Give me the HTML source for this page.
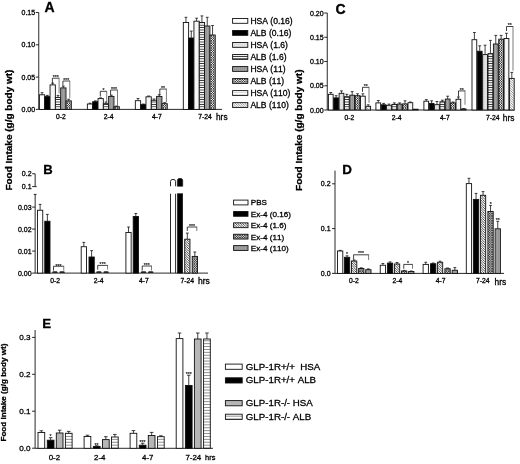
<!DOCTYPE html>
<html><head><meta charset="utf-8"><title>Figure</title>
<style>
html,body{margin:0;padding:0;background:#fff;}
svg{display:block;font-family:"Liberation Sans",Arial,sans-serif;}
text{fill:#000;stroke:#000;stroke-width:0.3px;font-kerning:none;}
</style></head><body>
<svg width="520" height="464" viewBox="0 0 520 464">
<rect width="520" height="464" fill="#fff"/>
<defs>
<pattern id="ph" width="4" height="2.4" patternUnits="userSpaceOnUse"><rect width="4" height="2.4" fill="#fff"/><rect y="0.75" width="4" height="0.85" fill="#222"/></pattern>
<pattern id="peh" width="4" height="2.9" patternUnits="userSpaceOnUse"><rect width="4" height="2.9" fill="#fff"/><rect y="1.1" width="4" height="0.65" fill="#555"/></pattern>
<pattern id="ph2" width="4" height="2.4" patternUnits="userSpaceOnUse"><rect width="4" height="2.4" fill="#fff"/><rect y="0.9" width="4" height="0.6" fill="#c4c4c4"/></pattern>
<pattern id="pl" width="2" height="2" patternUnits="userSpaceOnUse"><rect width="2" height="2" fill="#e4e4e4"/><rect width="1" height="1" fill="#d6d6d6"/></pattern>
<pattern id="pg" width="2" height="2" patternUnits="userSpaceOnUse"><rect width="2" height="2" fill="#a2a2a2"/><rect width="1" height="2" fill="#949494"/></pattern>
<pattern id="pc" width="2.4" height="2.4" patternUnits="userSpaceOnUse"><rect width="2.4" height="2.4" fill="#fff"/><path d="M0,0 L2.4,2.4 M2.4,0 L0,2.4" stroke="#000" stroke-width="0.62"/></pattern>
<pattern id="pgc" width="2.4" height="2.4" patternUnits="userSpaceOnUse"><rect width="2.4" height="2.4" fill="#d6d6d6"/><path d="M0,0 L2.4,2.4 M2.4,0 L0,2.4" stroke="#111" stroke-width="0.6"/></pattern>
<pattern id="pd" width="2.4" height="2.4" patternUnits="userSpaceOnUse"><rect width="2.4" height="2.4" fill="#fff"/><path d="M-0.6,-0.6 L3,3 M-0.6,1.8 L0.6,3 M1.8,-0.6 L3,0.6" stroke="#444" stroke-width="0.55"/></pattern>
<pattern id="pd2" width="2.4" height="2.4" patternUnits="userSpaceOnUse"><rect width="2.4" height="2.4" fill="#fff"/><path d="M-0.6,-0.6 L3,3 M-0.6,1.8 L0.6,3 M1.8,-0.6 L3,0.6" stroke="#111" stroke-width="0.75"/></pattern>
</defs>
<line x1="38.75" y1="12.50" x2="38.75" y2="109.40" stroke="#111" stroke-width="0.9" />
<line x1="38.75" y1="109.40" x2="222.00" y2="109.40" stroke="#111" stroke-width="0.9" />
<line x1="35.75" y1="12.50" x2="38.75" y2="12.50" stroke="#111" stroke-width="0.9" />
<text x="35.15" y="15.05" font-size="7.0" text-anchor="end" font-weight="normal" >0.15</text>
<line x1="35.75" y1="44.80" x2="38.75" y2="44.80" stroke="#111" stroke-width="0.9" />
<text x="35.15" y="47.35" font-size="7.0" text-anchor="end" font-weight="normal" >0.10</text>
<line x1="35.75" y1="77.10" x2="38.75" y2="77.10" stroke="#111" stroke-width="0.9" />
<text x="35.15" y="79.65" font-size="7.0" text-anchor="end" font-weight="normal" >0.05</text>
<line x1="35.75" y1="109.40" x2="38.75" y2="109.40" stroke="#111" stroke-width="0.9" />
<text x="35.15" y="111.95" font-size="7.0" text-anchor="end" font-weight="normal" >0.00</text>
<text x="44.60" y="12.20" font-size="14" text-anchor="start" font-weight="bold" >A</text>
<line x1="42.06" y1="92.70" x2="42.06" y2="94.80" stroke="#111" stroke-width="0.8" />
<line x1="40.66" y1="92.70" x2="43.46" y2="92.70" stroke="#111" stroke-width="0.8" />
<rect x="39.40" y="94.80" width="5.32" height="14.60" fill="#fff" stroke="#111" stroke-width="0.9"/>
<line x1="47.38" y1="95.40" x2="47.38" y2="96.60" stroke="#111" stroke-width="0.8" />
<line x1="45.98" y1="95.40" x2="48.78" y2="95.40" stroke="#111" stroke-width="0.8" />
<rect x="44.72" y="96.60" width="5.32" height="12.80" fill="#000" stroke="#111" stroke-width="0.9"/>
<line x1="52.70" y1="83.20" x2="52.70" y2="84.90" stroke="#111" stroke-width="0.8" />
<line x1="51.30" y1="83.20" x2="54.10" y2="83.20" stroke="#111" stroke-width="0.8" />
<rect x="50.04" y="84.90" width="5.32" height="24.50" fill="#f6f6f6" stroke="#111" stroke-width="0.9"/>
<line x1="58.02" y1="95.40" x2="58.02" y2="97.40" stroke="#111" stroke-width="0.8" />
<line x1="56.62" y1="95.40" x2="59.42" y2="95.40" stroke="#111" stroke-width="0.8" />
<rect x="55.36" y="97.40" width="5.32" height="12.00" fill="url(#ph)" stroke="#111" stroke-width="0.9"/>
<line x1="63.34" y1="86.20" x2="63.34" y2="87.90" stroke="#111" stroke-width="0.8" />
<line x1="61.94" y1="86.20" x2="64.74" y2="86.20" stroke="#111" stroke-width="0.8" />
<rect x="60.68" y="87.90" width="5.32" height="21.50" fill="url(#pg)" stroke="#111" stroke-width="0.9"/>
<line x1="68.66" y1="99.20" x2="68.66" y2="100.90" stroke="#111" stroke-width="0.8" />
<line x1="67.26" y1="99.20" x2="70.06" y2="99.20" stroke="#111" stroke-width="0.8" />
<rect x="66.00" y="100.90" width="5.32" height="8.50" fill="url(#pc)" stroke="#111" stroke-width="0.9"/>
<line x1="90.03" y1="103.20" x2="90.03" y2="104.00" stroke="#111" stroke-width="0.8" />
<line x1="88.63" y1="103.20" x2="91.43" y2="103.20" stroke="#111" stroke-width="0.8" />
<rect x="87.37" y="104.00" width="5.32" height="5.40" fill="#fff" stroke="#111" stroke-width="0.9"/>
<line x1="95.35" y1="100.90" x2="95.35" y2="101.70" stroke="#111" stroke-width="0.8" />
<line x1="93.95" y1="100.90" x2="96.75" y2="100.90" stroke="#111" stroke-width="0.8" />
<rect x="92.69" y="101.70" width="5.32" height="7.70" fill="#000" stroke="#111" stroke-width="0.9"/>
<line x1="100.67" y1="97.90" x2="100.67" y2="98.60" stroke="#111" stroke-width="0.8" />
<line x1="99.27" y1="97.90" x2="102.07" y2="97.90" stroke="#111" stroke-width="0.8" />
<rect x="98.01" y="98.60" width="5.32" height="10.80" fill="#f6f6f6" stroke="#111" stroke-width="0.9"/>
<line x1="105.99" y1="102.10" x2="105.99" y2="103.70" stroke="#111" stroke-width="0.8" />
<line x1="104.59" y1="102.10" x2="107.39" y2="102.10" stroke="#111" stroke-width="0.8" />
<rect x="103.33" y="103.70" width="5.32" height="5.70" fill="url(#ph)" stroke="#111" stroke-width="0.9"/>
<line x1="111.31" y1="95.20" x2="111.31" y2="96.40" stroke="#111" stroke-width="0.8" />
<line x1="109.91" y1="95.20" x2="112.71" y2="95.20" stroke="#111" stroke-width="0.8" />
<rect x="108.65" y="96.40" width="5.32" height="13.00" fill="url(#pg)" stroke="#111" stroke-width="0.9"/>
<line x1="116.63" y1="106.00" x2="116.63" y2="106.70" stroke="#111" stroke-width="0.8" />
<line x1="115.23" y1="106.00" x2="118.03" y2="106.00" stroke="#111" stroke-width="0.8" />
<rect x="113.97" y="106.70" width="5.32" height="2.70" fill="url(#pc)" stroke="#111" stroke-width="0.9"/>
<line x1="137.99" y1="98.50" x2="137.99" y2="100.70" stroke="#111" stroke-width="0.8" />
<line x1="136.59" y1="98.50" x2="139.39" y2="98.50" stroke="#111" stroke-width="0.8" />
<rect x="135.33" y="100.70" width="5.32" height="8.70" fill="#fff" stroke="#111" stroke-width="0.9"/>
<line x1="143.31" y1="104.00" x2="143.31" y2="104.60" stroke="#111" stroke-width="0.8" />
<line x1="141.91" y1="104.00" x2="144.71" y2="104.00" stroke="#111" stroke-width="0.8" />
<rect x="140.65" y="104.60" width="5.32" height="4.80" fill="#000" stroke="#111" stroke-width="0.9"/>
<line x1="148.63" y1="96.00" x2="148.63" y2="96.80" stroke="#111" stroke-width="0.8" />
<line x1="147.23" y1="96.00" x2="150.03" y2="96.00" stroke="#111" stroke-width="0.8" />
<rect x="145.97" y="96.80" width="5.32" height="12.60" fill="#f6f6f6" stroke="#111" stroke-width="0.9"/>
<line x1="153.95" y1="99.00" x2="153.95" y2="100.30" stroke="#111" stroke-width="0.8" />
<line x1="152.55" y1="99.00" x2="155.35" y2="99.00" stroke="#111" stroke-width="0.8" />
<rect x="151.29" y="100.30" width="5.32" height="9.10" fill="url(#ph)" stroke="#111" stroke-width="0.9"/>
<line x1="159.27" y1="94.80" x2="159.27" y2="96.40" stroke="#111" stroke-width="0.8" />
<line x1="157.87" y1="94.80" x2="160.67" y2="94.80" stroke="#111" stroke-width="0.8" />
<rect x="156.61" y="96.40" width="5.32" height="13.00" fill="url(#pg)" stroke="#111" stroke-width="0.9"/>
<line x1="164.59" y1="102.70" x2="164.59" y2="103.70" stroke="#111" stroke-width="0.8" />
<line x1="163.19" y1="102.70" x2="165.99" y2="102.70" stroke="#111" stroke-width="0.8" />
<rect x="161.93" y="103.70" width="5.32" height="5.70" fill="url(#pc)" stroke="#111" stroke-width="0.9"/>
<line x1="185.96" y1="17.30" x2="185.96" y2="22.50" stroke="#111" stroke-width="0.8" />
<line x1="184.56" y1="17.30" x2="187.36" y2="17.30" stroke="#111" stroke-width="0.8" />
<rect x="183.30" y="22.50" width="5.32" height="86.90" fill="#fff" stroke="#111" stroke-width="0.9"/>
<line x1="191.28" y1="31.10" x2="191.28" y2="38.00" stroke="#111" stroke-width="0.8" />
<line x1="189.88" y1="31.10" x2="192.68" y2="31.10" stroke="#111" stroke-width="0.8" />
<rect x="188.62" y="38.00" width="5.32" height="71.40" fill="#000" stroke="#111" stroke-width="0.9"/>
<line x1="196.60" y1="18.20" x2="196.60" y2="21.20" stroke="#111" stroke-width="0.8" />
<line x1="195.20" y1="18.20" x2="198.00" y2="18.20" stroke="#111" stroke-width="0.8" />
<rect x="193.94" y="21.20" width="5.32" height="88.20" fill="#f6f6f6" stroke="#111" stroke-width="0.9"/>
<line x1="201.92" y1="15.90" x2="201.92" y2="22.50" stroke="#111" stroke-width="0.8" />
<line x1="200.52" y1="15.90" x2="203.32" y2="15.90" stroke="#111" stroke-width="0.8" />
<rect x="199.26" y="22.50" width="5.32" height="86.90" fill="url(#ph)" stroke="#111" stroke-width="0.9"/>
<line x1="207.24" y1="17.30" x2="207.24" y2="26.00" stroke="#111" stroke-width="0.8" />
<line x1="205.84" y1="17.30" x2="208.64" y2="17.30" stroke="#111" stroke-width="0.8" />
<rect x="204.58" y="26.00" width="5.32" height="83.40" fill="url(#pg)" stroke="#111" stroke-width="0.9"/>
<line x1="212.56" y1="25.50" x2="212.56" y2="35.00" stroke="#111" stroke-width="0.8" />
<line x1="211.16" y1="25.50" x2="213.96" y2="25.50" stroke="#111" stroke-width="0.8" />
<rect x="209.90" y="35.00" width="5.32" height="74.40" fill="url(#pc)" stroke="#111" stroke-width="0.9"/>
<polyline points="52.40,83.60 52.40,78.20 59.10,78.20" fill="none" stroke="#111" stroke-width="0.8"/>
<line x1="59.10" y1="77.80" x2="59.10" y2="93.50" stroke="#444" stroke-width="0.7"/>
<text x="55.75" y="78.90" font-size="5.2" text-anchor="middle" style="stroke-width:0.12px">***</text>
<polyline points="62.90,85.80 62.90,81.00 69.80,81.00" fill="none" stroke="#111" stroke-width="0.8"/>
<line x1="69.80" y1="80.60" x2="69.80" y2="97.90" stroke="#444" stroke-width="0.7"/>
<text x="66.35" y="82.30" font-size="5.2" text-anchor="middle" style="stroke-width:0.12px">***</text>
<polyline points="100.30,96.50 100.30,91.30 106.70,91.30" fill="none" stroke="#111" stroke-width="0.8"/>
<line x1="106.70" y1="90.90" x2="106.70" y2="102.00" stroke="#444" stroke-width="0.7"/>
<text x="103.50" y="92.00" font-size="5.2" text-anchor="middle" style="stroke-width:0.12px">*</text>
<polyline points="110.60,95.00 110.60,90.00 117.50,90.00" fill="none" stroke="#111" stroke-width="0.8"/>
<line x1="117.50" y1="89.60" x2="117.50" y2="105.60" stroke="#444" stroke-width="0.7"/>
<text x="114.05" y="91.20" font-size="5.2" text-anchor="middle" style="stroke-width:0.12px">***</text>
<polyline points="159.80,95.00 159.80,89.05 166.40,89.05" fill="none" stroke="#111" stroke-width="0.8"/>
<line x1="166.40" y1="88.65" x2="166.40" y2="102.50" stroke="#444" stroke-width="0.7"/>
<text x="163.10" y="89.90" font-size="5.2" text-anchor="middle" style="stroke-width:0.12px">**</text>
<text x="60.80" y="119.00" font-size="6.75" text-anchor="middle" font-weight="normal" >0-2</text>
<text x="108.60" y="119.00" font-size="6.75" text-anchor="middle" font-weight="normal" >2-4</text>
<text x="156.80" y="119.00" font-size="6.75" text-anchor="middle" font-weight="normal" >4-7</text>
<text x="205.10" y="119.00" font-size="6.75" text-anchor="middle" font-weight="normal" >7-24</text>
<text x="216.00" y="119.60" font-size="8.3" text-anchor="start" font-weight="normal" >hrs</text>
<rect x="232.6" y="18.50" width="15.2" height="4.8" fill="#fff" stroke="#111" stroke-width="0.9"/>
<text x="250.40" y="24.00" font-size="8.55" text-anchor="start" font-weight="normal" >HSA (0.16)</text>
<rect x="232.6" y="30.52" width="15.2" height="4.8" fill="#000" stroke="#111" stroke-width="0.9"/>
<text x="250.40" y="36.02" font-size="8.55" text-anchor="start" font-weight="normal" >ALB (0.16)</text>
<rect x="232.6" y="42.54" width="15.2" height="4.8" fill="url(#pl)" stroke="#111" stroke-width="0.9"/>
<text x="250.40" y="48.04" font-size="8.55" text-anchor="start" font-weight="normal" >HSA (1.6)</text>
<rect x="232.6" y="54.56" width="15.2" height="4.8" fill="url(#ph)" stroke="#111" stroke-width="0.9"/>
<text x="250.40" y="60.06" font-size="8.55" text-anchor="start" font-weight="normal" >ALB (1.6)</text>
<rect x="232.6" y="66.58" width="15.2" height="4.8" fill="url(#pg)" stroke="#111" stroke-width="0.9"/>
<text x="250.40" y="72.08" font-size="8.55" text-anchor="start" font-weight="normal" >HSA (11)</text>
<rect x="232.6" y="78.60" width="15.2" height="4.8" fill="url(#pc)" stroke="#111" stroke-width="0.9"/>
<text x="250.40" y="84.10" font-size="8.55" text-anchor="start" font-weight="normal" >ALB (11)</text>
<rect x="232.6" y="90.62" width="15.2" height="4.8" fill="url(#ph2)" stroke="#111" stroke-width="0.9"/>
<text x="250.40" y="96.12" font-size="8.55" text-anchor="start" font-weight="normal" >HSA (110)</text>
<rect x="232.6" y="102.64" width="15.2" height="4.8" fill="url(#pd)" stroke="#111" stroke-width="0.9"/>
<text x="250.40" y="108.14" font-size="8.55" text-anchor="start" font-weight="normal" >ALB (110)</text>
<line x1="327.25" y1="13.00" x2="327.25" y2="110.00" stroke="#111" stroke-width="0.9" />
<line x1="327.25" y1="110.00" x2="514.50" y2="110.00" stroke="#111" stroke-width="0.9" />
<line x1="324.25" y1="13.00" x2="327.25" y2="13.00" stroke="#111" stroke-width="0.9" />
<text x="323.65" y="15.55" font-size="7.0" text-anchor="end" font-weight="normal" >0.20</text>
<line x1="324.25" y1="37.25" x2="327.25" y2="37.25" stroke="#111" stroke-width="0.9" />
<text x="323.65" y="39.80" font-size="7.0" text-anchor="end" font-weight="normal" >0.15</text>
<line x1="324.25" y1="61.50" x2="327.25" y2="61.50" stroke="#111" stroke-width="0.9" />
<text x="323.65" y="64.05" font-size="7.0" text-anchor="end" font-weight="normal" >0.10</text>
<line x1="324.25" y1="85.75" x2="327.25" y2="85.75" stroke="#111" stroke-width="0.9" />
<text x="323.65" y="88.30" font-size="7.0" text-anchor="end" font-weight="normal" >0.05</text>
<line x1="324.25" y1="110.00" x2="327.25" y2="110.00" stroke="#111" stroke-width="0.9" />
<text x="323.65" y="112.55" font-size="7.0" text-anchor="end" font-weight="normal" >0.00</text>
<text x="335.60" y="13.90" font-size="14" text-anchor="start" font-weight="bold" >C</text>
<line x1="330.77" y1="92.50" x2="330.77" y2="94.30" stroke="#111" stroke-width="0.8" />
<line x1="329.38" y1="92.50" x2="332.17" y2="92.50" stroke="#111" stroke-width="0.8" />
<rect x="328.40" y="94.30" width="4.75" height="15.70" fill="#fff" stroke="#111" stroke-width="0.9"/>
<line x1="336.12" y1="95.70" x2="336.12" y2="97.90" stroke="#111" stroke-width="0.8" />
<line x1="334.73" y1="95.70" x2="337.52" y2="95.70" stroke="#111" stroke-width="0.8" />
<rect x="333.75" y="97.90" width="4.75" height="12.10" fill="#000" stroke="#111" stroke-width="0.9"/>
<line x1="341.47" y1="90.90" x2="341.47" y2="93.30" stroke="#111" stroke-width="0.8" />
<line x1="340.07" y1="90.90" x2="342.87" y2="90.90" stroke="#111" stroke-width="0.8" />
<rect x="339.10" y="93.30" width="4.75" height="16.70" fill="url(#pl)" stroke="#111" stroke-width="0.9"/>
<line x1="346.82" y1="94.30" x2="346.82" y2="96.70" stroke="#111" stroke-width="0.8" />
<line x1="345.43" y1="94.30" x2="348.22" y2="94.30" stroke="#111" stroke-width="0.8" />
<rect x="344.45" y="96.70" width="4.75" height="13.30" fill="url(#ph)" stroke="#111" stroke-width="0.9"/>
<line x1="352.17" y1="91.60" x2="352.17" y2="95.20" stroke="#111" stroke-width="0.8" />
<line x1="350.77" y1="91.60" x2="353.57" y2="91.60" stroke="#111" stroke-width="0.8" />
<rect x="349.80" y="95.20" width="4.75" height="14.80" fill="url(#pg)" stroke="#111" stroke-width="0.9"/>
<line x1="357.52" y1="93.80" x2="357.52" y2="95.70" stroke="#111" stroke-width="0.8" />
<line x1="356.12" y1="93.80" x2="358.92" y2="93.80" stroke="#111" stroke-width="0.8" />
<rect x="355.15" y="95.70" width="4.75" height="14.30" fill="url(#pc)" stroke="#111" stroke-width="0.9"/>
<line x1="362.88" y1="93.80" x2="362.88" y2="96.20" stroke="#111" stroke-width="0.8" />
<line x1="361.48" y1="93.80" x2="364.27" y2="93.80" stroke="#111" stroke-width="0.8" />
<rect x="360.50" y="96.20" width="4.75" height="13.80" fill="#f6f6f6" stroke="#111" stroke-width="0.9"/>
<line x1="368.22" y1="104.80" x2="368.22" y2="106.30" stroke="#111" stroke-width="0.8" />
<line x1="366.82" y1="104.80" x2="369.62" y2="104.80" stroke="#111" stroke-width="0.8" />
<rect x="365.85" y="106.30" width="4.75" height="3.70" fill="url(#pd)" stroke="#111" stroke-width="0.9"/>
<line x1="378.27" y1="100.50" x2="378.27" y2="102.90" stroke="#111" stroke-width="0.8" />
<line x1="376.88" y1="100.50" x2="379.67" y2="100.50" stroke="#111" stroke-width="0.8" />
<rect x="375.90" y="102.90" width="4.75" height="7.10" fill="#fff" stroke="#111" stroke-width="0.9"/>
<line x1="383.62" y1="103.40" x2="383.62" y2="104.80" stroke="#111" stroke-width="0.8" />
<line x1="382.23" y1="103.40" x2="385.02" y2="103.40" stroke="#111" stroke-width="0.8" />
<rect x="381.25" y="104.80" width="4.75" height="5.20" fill="#000" stroke="#111" stroke-width="0.9"/>
<line x1="388.97" y1="104.10" x2="388.97" y2="105.30" stroke="#111" stroke-width="0.8" />
<line x1="387.57" y1="104.10" x2="390.37" y2="104.10" stroke="#111" stroke-width="0.8" />
<rect x="386.60" y="105.30" width="4.75" height="4.70" fill="url(#pl)" stroke="#111" stroke-width="0.9"/>
<line x1="394.32" y1="102.90" x2="394.32" y2="104.40" stroke="#111" stroke-width="0.8" />
<line x1="392.93" y1="102.90" x2="395.72" y2="102.90" stroke="#111" stroke-width="0.8" />
<rect x="391.95" y="104.40" width="4.75" height="5.60" fill="url(#ph)" stroke="#111" stroke-width="0.9"/>
<line x1="399.67" y1="102.90" x2="399.67" y2="104.10" stroke="#111" stroke-width="0.8" />
<line x1="398.27" y1="102.90" x2="401.07" y2="102.90" stroke="#111" stroke-width="0.8" />
<rect x="397.30" y="104.10" width="4.75" height="5.90" fill="url(#pg)" stroke="#111" stroke-width="0.9"/>
<line x1="405.02" y1="100.80" x2="405.02" y2="103.90" stroke="#111" stroke-width="0.8" />
<line x1="403.62" y1="100.80" x2="406.42" y2="100.80" stroke="#111" stroke-width="0.8" />
<rect x="402.65" y="103.90" width="4.75" height="6.10" fill="url(#pc)" stroke="#111" stroke-width="0.9"/>
<line x1="410.38" y1="102.00" x2="410.38" y2="102.70" stroke="#111" stroke-width="0.8" />
<line x1="408.98" y1="102.00" x2="411.77" y2="102.00" stroke="#111" stroke-width="0.8" />
<rect x="408.00" y="102.70" width="4.75" height="7.30" fill="#f6f6f6" stroke="#111" stroke-width="0.9"/>
<rect x="413.35" y="109.20" width="4.75" height="0.80" fill="url(#pd)" stroke="#111" stroke-width="0.9"/>
<line x1="426.27" y1="99.60" x2="426.27" y2="101.20" stroke="#111" stroke-width="0.8" />
<line x1="424.88" y1="99.60" x2="427.67" y2="99.60" stroke="#111" stroke-width="0.8" />
<rect x="423.90" y="101.20" width="4.75" height="8.80" fill="#fff" stroke="#111" stroke-width="0.9"/>
<line x1="431.62" y1="100.80" x2="431.62" y2="103.40" stroke="#111" stroke-width="0.8" />
<line x1="430.23" y1="100.80" x2="433.02" y2="100.80" stroke="#111" stroke-width="0.8" />
<rect x="429.25" y="103.40" width="4.75" height="6.60" fill="#000" stroke="#111" stroke-width="0.9"/>
<line x1="436.97" y1="101.50" x2="436.97" y2="104.65" stroke="#111" stroke-width="0.8" />
<line x1="435.57" y1="101.50" x2="438.37" y2="101.50" stroke="#111" stroke-width="0.8" />
<rect x="434.60" y="104.65" width="4.75" height="5.35" fill="url(#pl)" stroke="#111" stroke-width="0.9"/>
<line x1="442.32" y1="100.20" x2="442.32" y2="101.80" stroke="#111" stroke-width="0.8" />
<line x1="440.93" y1="100.20" x2="443.72" y2="100.20" stroke="#111" stroke-width="0.8" />
<rect x="439.95" y="101.80" width="4.75" height="8.20" fill="url(#ph)" stroke="#111" stroke-width="0.9"/>
<line x1="447.67" y1="96.20" x2="447.67" y2="99.10" stroke="#111" stroke-width="0.8" />
<line x1="446.27" y1="96.20" x2="449.07" y2="96.20" stroke="#111" stroke-width="0.8" />
<rect x="445.30" y="99.10" width="4.75" height="10.90" fill="url(#pg)" stroke="#111" stroke-width="0.9"/>
<line x1="453.02" y1="102.00" x2="453.02" y2="102.90" stroke="#111" stroke-width="0.8" />
<line x1="451.62" y1="102.00" x2="454.42" y2="102.00" stroke="#111" stroke-width="0.8" />
<rect x="450.65" y="102.90" width="4.75" height="7.10" fill="url(#pc)" stroke="#111" stroke-width="0.9"/>
<line x1="458.38" y1="97.00" x2="458.38" y2="99.30" stroke="#111" stroke-width="0.8" />
<line x1="456.98" y1="97.00" x2="459.77" y2="97.00" stroke="#111" stroke-width="0.8" />
<rect x="456.00" y="99.30" width="4.75" height="10.70" fill="#f6f6f6" stroke="#111" stroke-width="0.9"/>
<line x1="463.72" y1="108.60" x2="463.72" y2="109.00" stroke="#111" stroke-width="0.8" />
<line x1="462.32" y1="108.60" x2="465.12" y2="108.60" stroke="#111" stroke-width="0.8" />
<rect x="461.35" y="109.00" width="4.75" height="1.00" fill="url(#pd)" stroke="#111" stroke-width="0.9"/>
<line x1="474.38" y1="32.50" x2="474.38" y2="39.70" stroke="#111" stroke-width="0.8" />
<line x1="472.98" y1="32.50" x2="475.77" y2="32.50" stroke="#111" stroke-width="0.8" />
<rect x="472.00" y="39.70" width="4.75" height="70.30" fill="#fff" stroke="#111" stroke-width="0.9"/>
<line x1="479.73" y1="45.80" x2="479.73" y2="51.25" stroke="#111" stroke-width="0.8" />
<line x1="478.33" y1="45.80" x2="481.12" y2="45.80" stroke="#111" stroke-width="0.8" />
<rect x="477.35" y="51.25" width="4.75" height="58.75" fill="#000" stroke="#111" stroke-width="0.9"/>
<line x1="485.07" y1="45.20" x2="485.07" y2="54.60" stroke="#111" stroke-width="0.8" />
<line x1="483.68" y1="45.20" x2="486.47" y2="45.20" stroke="#111" stroke-width="0.8" />
<rect x="482.70" y="54.60" width="4.75" height="55.40" fill="url(#pl)" stroke="#111" stroke-width="0.9"/>
<line x1="490.43" y1="40.40" x2="490.43" y2="53.65" stroke="#111" stroke-width="0.8" />
<line x1="489.03" y1="40.40" x2="491.82" y2="40.40" stroke="#111" stroke-width="0.8" />
<rect x="488.05" y="53.65" width="4.75" height="56.35" fill="url(#ph)" stroke="#111" stroke-width="0.9"/>
<line x1="495.77" y1="35.40" x2="495.77" y2="44.00" stroke="#111" stroke-width="0.8" />
<line x1="494.38" y1="35.40" x2="497.17" y2="35.40" stroke="#111" stroke-width="0.8" />
<rect x="493.40" y="44.00" width="4.75" height="66.00" fill="url(#pg)" stroke="#111" stroke-width="0.9"/>
<line x1="501.12" y1="35.40" x2="501.12" y2="39.20" stroke="#111" stroke-width="0.8" />
<line x1="499.73" y1="35.40" x2="502.52" y2="35.40" stroke="#111" stroke-width="0.8" />
<rect x="498.75" y="39.20" width="4.75" height="70.80" fill="url(#pc)" stroke="#111" stroke-width="0.9"/>
<line x1="506.48" y1="33.30" x2="506.48" y2="38.50" stroke="#111" stroke-width="0.8" />
<line x1="505.08" y1="33.30" x2="507.88" y2="33.30" stroke="#111" stroke-width="0.8" />
<rect x="504.10" y="38.50" width="4.75" height="71.50" fill="#f6f6f6" stroke="#111" stroke-width="0.9"/>
<line x1="511.82" y1="72.40" x2="511.82" y2="78.40" stroke="#111" stroke-width="0.8" />
<line x1="510.43" y1="72.40" x2="513.23" y2="72.40" stroke="#111" stroke-width="0.8" />
<rect x="509.45" y="78.40" width="4.75" height="31.60" fill="url(#pd)" stroke="#111" stroke-width="0.9"/>
<polyline points="362.50,91.90 362.50,87.30 369.00,87.30" fill="none" stroke="#111" stroke-width="0.8"/>
<line x1="369.00" y1="86.90" x2="369.00" y2="102.90" stroke="#444" stroke-width="0.7"/>
<text x="365.75" y="88.40" font-size="5.2" text-anchor="middle" style="stroke-width:0.12px">**</text>
<polyline points="458.50,96.70 458.50,90.90 465.00,90.90" fill="none" stroke="#111" stroke-width="0.8"/>
<line x1="465.00" y1="90.50" x2="465.00" y2="104.80" stroke="#444" stroke-width="0.7"/>
<text x="461.75" y="92.00" font-size="5.2" text-anchor="middle" style="stroke-width:0.12px">**</text>
<polyline points="506.50,31.00 506.50,26.50 513.00,26.50" fill="none" stroke="#111" stroke-width="0.8"/>
<line x1="513.00" y1="26.10" x2="513.00" y2="70.70" stroke="#444" stroke-width="0.7"/>
<text x="509.75" y="27.30" font-size="5.2" text-anchor="middle" style="stroke-width:0.12px">**</text>
<text x="349.40" y="120.00" font-size="6.75" text-anchor="middle" font-weight="normal" >0-2</text>
<text x="396.60" y="120.00" font-size="6.75" text-anchor="middle" font-weight="normal" >2-4</text>
<text x="444.80" y="120.00" font-size="6.75" text-anchor="middle" font-weight="normal" >4-7</text>
<text x="492.80" y="120.00" font-size="6.75" text-anchor="middle" font-weight="normal" >7-24</text>
<text x="502.80" y="121.00" font-size="8.4" text-anchor="start" font-weight="normal" >hrs</text>
<line x1="35.15" y1="173.75" x2="35.15" y2="186.60" stroke="#111" stroke-width="0.9" />
<line x1="32.15" y1="173.75" x2="35.15" y2="173.75" stroke="#111" stroke-width="0.9" />
<line x1="32.15" y1="186.60" x2="36.65" y2="186.60" stroke="#111" stroke-width="0.9" />
<text x="31.55" y="176.30" font-size="7.0" text-anchor="end" font-weight="normal" >0.2</text>
<text x="31.55" y="189.15" font-size="7.0" text-anchor="end" font-weight="normal" >0.1</text>
<line x1="35.15" y1="194.40" x2="35.15" y2="273.10" stroke="#111" stroke-width="0.9" />
<line x1="33.75" y1="194.40" x2="36.55" y2="194.40" stroke="#111" stroke-width="0.9" />
<line x1="32.15" y1="207.10" x2="35.15" y2="207.10" stroke="#111" stroke-width="0.9" />
<text x="31.55" y="209.65" font-size="7.0" text-anchor="end" font-weight="normal" >0.03</text>
<line x1="32.15" y1="229.05" x2="35.15" y2="229.05" stroke="#111" stroke-width="0.9" />
<text x="31.55" y="231.60" font-size="7.0" text-anchor="end" font-weight="normal" >0.02</text>
<line x1="32.15" y1="251.05" x2="35.15" y2="251.05" stroke="#111" stroke-width="0.9" />
<text x="31.55" y="253.60" font-size="7.0" text-anchor="end" font-weight="normal" >0.01</text>
<line x1="32.15" y1="273.10" x2="35.15" y2="273.10" stroke="#111" stroke-width="0.9" />
<text x="31.55" y="275.65" font-size="7.0" text-anchor="end" font-weight="normal" >0.00</text>
<line x1="35.15" y1="273.10" x2="208.00" y2="273.10" stroke="#111" stroke-width="0.9" />
<text x="43.20" y="173.90" font-size="13.1" text-anchor="start" font-weight="bold" >B</text>
<line x1="40.12" y1="204.40" x2="40.12" y2="210.25" stroke="#111" stroke-width="0.8" />
<line x1="38.73" y1="204.40" x2="41.52" y2="204.40" stroke="#111" stroke-width="0.8" />
<rect x="37.50" y="210.25" width="5.25" height="62.85" fill="#fff" stroke="#111" stroke-width="0.9"/>
<line x1="47.38" y1="214.40" x2="47.38" y2="221.25" stroke="#111" stroke-width="0.8" />
<line x1="45.98" y1="214.40" x2="48.77" y2="214.40" stroke="#111" stroke-width="0.8" />
<rect x="44.75" y="221.25" width="5.25" height="51.85" fill="#000" stroke="#111" stroke-width="0.9"/>
<line x1="83.83" y1="242.40" x2="83.83" y2="246.70" stroke="#111" stroke-width="0.8" />
<line x1="82.42" y1="242.40" x2="85.23" y2="242.40" stroke="#111" stroke-width="0.8" />
<rect x="81.20" y="246.70" width="5.25" height="26.40" fill="#fff" stroke="#111" stroke-width="0.9"/>
<line x1="91.62" y1="250.60" x2="91.62" y2="257.00" stroke="#111" stroke-width="0.8" />
<line x1="90.22" y1="250.60" x2="93.03" y2="250.60" stroke="#111" stroke-width="0.8" />
<rect x="89.00" y="257.00" width="5.25" height="16.10" fill="#000" stroke="#111" stroke-width="0.9"/>
<line x1="128.53" y1="227.00" x2="128.53" y2="232.50" stroke="#111" stroke-width="0.8" />
<line x1="127.12" y1="227.00" x2="129.93" y2="227.00" stroke="#111" stroke-width="0.8" />
<rect x="125.90" y="232.50" width="5.25" height="40.60" fill="#fff" stroke="#111" stroke-width="0.9"/>
<line x1="135.82" y1="213.50" x2="135.82" y2="216.50" stroke="#111" stroke-width="0.8" />
<line x1="134.42" y1="213.50" x2="137.22" y2="213.50" stroke="#111" stroke-width="0.8" />
<rect x="133.20" y="216.50" width="5.25" height="56.60" fill="#000" stroke="#111" stroke-width="0.9"/>
<path d="M52.30,273.1 v-0.9 q0,-0.9 1.2,-0.9 h2.85 q1.2,0 1.2,0.9 v0.9 z" fill="#222" stroke="none"/>
<path d="M59.50,273.1 v-0.9 q0,-0.9 1.2,-0.9 h2.85 q1.2,0 1.2,0.9 v0.9 z" fill="#222" stroke="none"/>
<path d="M96.30,273.1 v-0.9 q0,-0.9 1.2,-0.9 h2.85 q1.2,0 1.2,0.9 v0.9 z" fill="#222" stroke="none"/>
<path d="M103.50,273.1 v-0.9 q0,-0.9 1.2,-0.9 h2.85 q1.2,0 1.2,0.9 v0.9 z" fill="#222" stroke="none"/>
<path d="M140.90,273.1 v-0.9 q0,-0.9 1.2,-0.9 h2.85 q1.2,0 1.2,0.9 v0.9 z" fill="#222" stroke="none"/>
<path d="M148.10,273.1 v-0.9 q0,-0.9 1.2,-0.9 h2.85 q1.2,0 1.2,0.9 v0.9 z" fill="#222" stroke="none"/>
<polyline points="53.50,270.60 53.50,266.25 63.75,266.25" fill="none" stroke="#111" stroke-width="0.8"/>
<line x1="63.75" y1="265.85" x2="63.75" y2="270.60" stroke="#444" stroke-width="0.7"/>
<text x="58.62" y="267.50" font-size="5.2" text-anchor="middle" style="stroke-width:0.12px">***</text>
<polyline points="97.70,269.60 97.70,265.40 107.60,265.40" fill="none" stroke="#111" stroke-width="0.8"/>
<line x1="107.60" y1="265.00" x2="107.60" y2="269.60" stroke="#444" stroke-width="0.7"/>
<text x="102.65" y="266.10" font-size="5.2" text-anchor="middle" style="stroke-width:0.12px">***</text>
<polyline points="142.20,270.50 142.20,266.00 151.50,266.00" fill="none" stroke="#111" stroke-width="0.8"/>
<line x1="151.50" y1="265.60" x2="151.50" y2="270.50" stroke="#444" stroke-width="0.7"/>
<text x="146.85" y="266.60" font-size="5.2" text-anchor="middle" style="stroke-width:0.12px">***</text>
<path d="M170.5,186.25 V181.4 Q170.5,179.4 173,179.4 Q175.6,179.4 175.6,181.4 V186.25" fill="#fff" stroke="#111" stroke-width="0.9"/>
<path d="M170.5,193.75 V273.1 M175.6,193.75 V273.1" fill="none" stroke="#111" stroke-width="0.9"/>
<path d="M177.4,186.25 V180.1 Q177.4,178.6 180,178.3 Q182.7,178.6 182.7,180.1 V186.25 Z" fill="#000" stroke="#111" stroke-width="0.6"/>
<rect x="177.4" y="193.75" width="5.3" height="79.35" fill="#000" stroke="#111" stroke-width="0.6"/>
<line x1="187.32" y1="233.10" x2="187.32" y2="239.20" stroke="#111" stroke-width="0.8" />
<line x1="185.92" y1="233.10" x2="188.72" y2="233.10" stroke="#111" stroke-width="0.8" />
<rect x="184.70" y="239.20" width="5.25" height="33.90" fill="url(#pd2)" stroke="#111" stroke-width="0.9"/>
<line x1="194.82" y1="252.00" x2="194.82" y2="256.40" stroke="#111" stroke-width="0.8" />
<line x1="193.42" y1="252.00" x2="196.22" y2="252.00" stroke="#111" stroke-width="0.8" />
<rect x="192.20" y="256.40" width="5.25" height="16.70" fill="url(#pgc)" stroke="#111" stroke-width="0.9"/>
<polyline points="187.30,231.00 187.30,227.00 196.80,227.00" fill="none" stroke="#111" stroke-width="0.8"/>
<line x1="196.80" y1="226.60" x2="196.80" y2="231.00" stroke="#444" stroke-width="0.7"/>
<text x="192.05" y="228.20" font-size="5.2" text-anchor="middle" style="stroke-width:0.12px">***</text>
<text x="55.20" y="283.10" font-size="6.75" text-anchor="middle" font-weight="normal" >0-2</text>
<text x="98.60" y="283.10" font-size="6.75" text-anchor="middle" font-weight="normal" >2-4</text>
<text x="143.80" y="283.10" font-size="6.75" text-anchor="middle" font-weight="normal" >4-7</text>
<text x="187.20" y="283.10" font-size="6.75" text-anchor="middle" font-weight="normal" >7-24</text>
<text x="198.00" y="284.00" font-size="8.5" text-anchor="start" font-weight="normal" >hrs</text>
<rect x="233.6" y="200.10" width="14.4" height="4.8" fill="#fff" stroke="#111" stroke-width="0.9"/>
<text x="250.80" y="205.40" font-size="8.1" text-anchor="start" font-weight="normal" >PBS</text>
<rect x="233.6" y="211.48" width="14.4" height="4.8" fill="#000" stroke="#111" stroke-width="0.9"/>
<text x="250.80" y="216.78" font-size="8.1" text-anchor="start" font-weight="normal" >Ex-4 (0.16)</text>
<rect x="233.6" y="222.86" width="14.4" height="4.8" fill="url(#pd2)" stroke="#111" stroke-width="0.9"/>
<text x="250.80" y="228.16" font-size="8.1" text-anchor="start" font-weight="normal" >Ex-4 (1.6)</text>
<rect x="233.6" y="234.24" width="14.4" height="4.8" fill="url(#pgc)" stroke="#111" stroke-width="0.9"/>
<text x="250.80" y="239.54" font-size="8.1" text-anchor="start" font-weight="normal" >Ex-4 (11)</text>
<rect x="233.6" y="245.62" width="14.4" height="4.8" fill="url(#pg)" stroke="#111" stroke-width="0.9"/>
<text x="250.80" y="250.92" font-size="8.1" text-anchor="start" font-weight="normal" >Ex-4 (110)</text>
<line x1="335.00" y1="170.60" x2="335.00" y2="273.40" stroke="#111" stroke-width="0.9" />
<line x1="335.00" y1="273.40" x2="504.00" y2="273.40" stroke="#111" stroke-width="0.9" />
<line x1="332.00" y1="183.80" x2="335.00" y2="183.80" stroke="#111" stroke-width="0.9" />
<text x="330.60" y="186.35" font-size="7.0" text-anchor="end" font-weight="normal" >0.2</text>
<line x1="332.00" y1="228.60" x2="335.00" y2="228.60" stroke="#111" stroke-width="0.9" />
<text x="330.60" y="231.15" font-size="7.0" text-anchor="end" font-weight="normal" >0.1</text>
<line x1="332.00" y1="273.40" x2="335.00" y2="273.40" stroke="#111" stroke-width="0.9" />
<text x="330.60" y="275.95" font-size="7.0" text-anchor="end" font-weight="normal" >0.0</text>
<text x="342.20" y="173.70" font-size="13.4" text-anchor="start" font-weight="bold" >D</text>
<line x1="340.15" y1="250.40" x2="340.15" y2="251.00" stroke="#111" stroke-width="0.8" />
<line x1="338.75" y1="250.40" x2="341.55" y2="250.40" stroke="#111" stroke-width="0.8" />
<rect x="337.50" y="251.00" width="5.30" height="22.40" fill="#fff" stroke="#111" stroke-width="0.9"/>
<line x1="347.05" y1="255.80" x2="347.05" y2="257.30" stroke="#111" stroke-width="0.8" />
<line x1="345.65" y1="255.80" x2="348.45" y2="255.80" stroke="#111" stroke-width="0.8" />
<rect x="344.40" y="257.30" width="5.30" height="16.10" fill="#000" stroke="#111" stroke-width="0.9"/>
<line x1="354.15" y1="260.00" x2="354.15" y2="261.00" stroke="#111" stroke-width="0.8" />
<line x1="352.75" y1="260.00" x2="355.55" y2="260.00" stroke="#111" stroke-width="0.8" />
<rect x="351.50" y="261.00" width="5.30" height="12.40" fill="url(#pd2)" stroke="#111" stroke-width="0.9"/>
<line x1="361.25" y1="267.80" x2="361.25" y2="268.50" stroke="#111" stroke-width="0.8" />
<line x1="359.85" y1="267.80" x2="362.65" y2="267.80" stroke="#111" stroke-width="0.8" />
<rect x="358.60" y="268.50" width="5.30" height="4.90" fill="url(#pgc)" stroke="#111" stroke-width="0.9"/>
<line x1="368.35" y1="268.90" x2="368.35" y2="269.70" stroke="#111" stroke-width="0.8" />
<line x1="366.95" y1="268.90" x2="369.75" y2="268.90" stroke="#111" stroke-width="0.8" />
<rect x="365.70" y="269.70" width="5.30" height="3.70" fill="url(#pg)" stroke="#111" stroke-width="0.9"/>
<line x1="382.90" y1="263.50" x2="382.90" y2="265.25" stroke="#111" stroke-width="0.8" />
<line x1="381.50" y1="263.50" x2="384.30" y2="263.50" stroke="#111" stroke-width="0.8" />
<rect x="380.25" y="265.25" width="5.30" height="8.15" fill="#fff" stroke="#111" stroke-width="0.9"/>
<line x1="390.05" y1="261.90" x2="390.05" y2="263.10" stroke="#111" stroke-width="0.8" />
<line x1="388.65" y1="261.90" x2="391.45" y2="261.90" stroke="#111" stroke-width="0.8" />
<rect x="387.40" y="263.10" width="5.30" height="10.30" fill="#000" stroke="#111" stroke-width="0.9"/>
<line x1="397.05" y1="262.50" x2="397.05" y2="264.00" stroke="#111" stroke-width="0.8" />
<line x1="395.65" y1="262.50" x2="398.45" y2="262.50" stroke="#111" stroke-width="0.8" />
<rect x="394.40" y="264.00" width="5.30" height="9.40" fill="url(#pd2)" stroke="#111" stroke-width="0.9"/>
<line x1="404.15" y1="270.40" x2="404.15" y2="271.00" stroke="#111" stroke-width="0.8" />
<line x1="402.75" y1="270.40" x2="405.55" y2="270.40" stroke="#111" stroke-width="0.8" />
<rect x="401.50" y="271.00" width="5.30" height="2.40" fill="url(#pgc)" stroke="#111" stroke-width="0.9"/>
<line x1="411.25" y1="271.00" x2="411.25" y2="271.50" stroke="#111" stroke-width="0.8" />
<line x1="409.85" y1="271.00" x2="412.65" y2="271.00" stroke="#111" stroke-width="0.8" />
<rect x="408.60" y="271.50" width="5.30" height="1.90" fill="url(#pg)" stroke="#111" stroke-width="0.9"/>
<line x1="425.75" y1="262.25" x2="425.75" y2="264.40" stroke="#111" stroke-width="0.8" />
<line x1="424.35" y1="262.25" x2="427.15" y2="262.25" stroke="#111" stroke-width="0.8" />
<rect x="423.10" y="264.40" width="5.30" height="9.00" fill="#fff" stroke="#111" stroke-width="0.9"/>
<line x1="433.15" y1="263.00" x2="433.15" y2="263.75" stroke="#111" stroke-width="0.8" />
<line x1="431.75" y1="263.00" x2="434.55" y2="263.00" stroke="#111" stroke-width="0.8" />
<rect x="430.50" y="263.75" width="5.30" height="9.65" fill="#000" stroke="#111" stroke-width="0.9"/>
<line x1="440.05" y1="261.20" x2="440.05" y2="262.25" stroke="#111" stroke-width="0.8" />
<line x1="438.65" y1="261.20" x2="441.45" y2="261.20" stroke="#111" stroke-width="0.8" />
<rect x="437.40" y="262.25" width="5.30" height="11.15" fill="url(#pd2)" stroke="#111" stroke-width="0.9"/>
<line x1="447.55" y1="268.00" x2="447.55" y2="268.75" stroke="#111" stroke-width="0.8" />
<line x1="446.15" y1="268.00" x2="448.95" y2="268.00" stroke="#111" stroke-width="0.8" />
<rect x="444.90" y="268.75" width="5.30" height="4.65" fill="url(#pgc)" stroke="#111" stroke-width="0.9"/>
<line x1="454.85" y1="267.60" x2="454.85" y2="270.25" stroke="#111" stroke-width="0.8" />
<line x1="453.45" y1="267.60" x2="456.25" y2="267.60" stroke="#111" stroke-width="0.8" />
<rect x="452.20" y="270.25" width="5.30" height="3.15" fill="url(#pg)" stroke="#111" stroke-width="0.9"/>
<line x1="468.95" y1="178.30" x2="468.95" y2="183.60" stroke="#111" stroke-width="0.8" />
<line x1="467.55" y1="178.30" x2="470.35" y2="178.30" stroke="#111" stroke-width="0.8" />
<rect x="466.30" y="183.60" width="5.30" height="89.80" fill="#fff" stroke="#111" stroke-width="0.9"/>
<line x1="476.05" y1="193.40" x2="476.05" y2="199.40" stroke="#111" stroke-width="0.8" />
<line x1="474.65" y1="193.40" x2="477.45" y2="193.40" stroke="#111" stroke-width="0.8" />
<rect x="473.40" y="199.40" width="5.30" height="74.00" fill="#000" stroke="#111" stroke-width="0.9"/>
<line x1="483.05" y1="191.60" x2="483.05" y2="195.30" stroke="#111" stroke-width="0.8" />
<line x1="481.65" y1="191.60" x2="484.45" y2="191.60" stroke="#111" stroke-width="0.8" />
<rect x="480.40" y="195.30" width="5.30" height="78.10" fill="url(#pd2)" stroke="#111" stroke-width="0.9"/>
<line x1="490.55" y1="205.40" x2="490.55" y2="211.50" stroke="#111" stroke-width="0.8" />
<line x1="489.15" y1="205.40" x2="491.95" y2="205.40" stroke="#111" stroke-width="0.8" />
<rect x="487.90" y="211.50" width="5.30" height="61.90" fill="url(#pgc)" stroke="#111" stroke-width="0.9"/>
<line x1="497.75" y1="221.30" x2="497.75" y2="228.80" stroke="#111" stroke-width="0.8" />
<line x1="496.35" y1="221.30" x2="499.15" y2="221.30" stroke="#111" stroke-width="0.8" />
<rect x="495.10" y="228.80" width="5.30" height="44.60" fill="url(#pg)" stroke="#111" stroke-width="0.9"/>
<text x="347.00" y="256.30" font-size="5.2" text-anchor="middle" style="stroke-width:0.12px">*</text>
<polyline points="353.60,259.60 353.60,254.80 368.60,254.80" fill="none" stroke="#111" stroke-width="0.8"/>
<line x1="368.60" y1="254.40" x2="368.60" y2="260.00" stroke="#444" stroke-width="0.7"/>
<text x="361.10" y="255.30" font-size="5.2" text-anchor="middle" style="stroke-width:0.12px">***</text>
<polyline points="403.75,268.75 403.75,264.40 412.50,264.40" fill="none" stroke="#111" stroke-width="0.8"/>
<line x1="412.50" y1="264.00" x2="412.50" y2="268.75" stroke="#444" stroke-width="0.7"/>
<text x="408.12" y="265.40" font-size="5.2" text-anchor="middle" style="stroke-width:0.12px">*</text>
<text x="490.70" y="206.00" font-size="5.2" text-anchor="middle" style="stroke-width:0.12px">*</text>
<text x="497.80" y="221.80" font-size="5.2" text-anchor="middle" style="stroke-width:0.12px">**</text>
<text x="353.80" y="283.30" font-size="6.75" text-anchor="middle" font-weight="normal" >0-2</text>
<text x="397.30" y="283.30" font-size="6.75" text-anchor="middle" font-weight="normal" >2-4</text>
<text x="440.70" y="283.30" font-size="6.75" text-anchor="middle" font-weight="normal" >4-7</text>
<text x="482.80" y="283.30" font-size="6.75" text-anchor="middle" font-weight="normal" >7-24</text>
<text x="494.60" y="285.30" font-size="8.4" text-anchor="start" font-weight="normal" >hrs</text>
<line x1="35.10" y1="330.00" x2="35.10" y2="448.30" stroke="#111" stroke-width="0.9" />
<line x1="35.10" y1="448.30" x2="213.00" y2="448.30" stroke="#111" stroke-width="0.9" />
<line x1="32.10" y1="337.40" x2="35.10" y2="337.40" stroke="#111" stroke-width="0.9" />
<text x="30.50" y="340.30" font-size="8.1" text-anchor="end" font-weight="normal" >0.3</text>
<line x1="32.10" y1="374.30" x2="35.10" y2="374.30" stroke="#111" stroke-width="0.9" />
<text x="30.50" y="377.20" font-size="8.1" text-anchor="end" font-weight="normal" >0.2</text>
<line x1="32.10" y1="411.20" x2="35.10" y2="411.20" stroke="#111" stroke-width="0.9" />
<text x="30.50" y="414.10" font-size="8.1" text-anchor="end" font-weight="normal" >0.1</text>
<line x1="32.10" y1="448.20" x2="35.10" y2="448.20" stroke="#111" stroke-width="0.9" />
<text x="30.50" y="451.10" font-size="8.1" text-anchor="end" font-weight="normal" >0.0</text>
<text x="42.30" y="327.70" font-size="13.3" text-anchor="start" font-weight="bold" >E</text>
<line x1="41.35" y1="430.80" x2="41.35" y2="432.50" stroke="#111" stroke-width="0.8" />
<line x1="39.55" y1="430.80" x2="43.15" y2="430.80" stroke="#111" stroke-width="0.8" />
<rect x="38.00" y="432.50" width="6.70" height="15.80" fill="#fff" stroke="#111" stroke-width="0.9"/>
<line x1="50.65" y1="437.70" x2="50.65" y2="440.20" stroke="#111" stroke-width="0.8" />
<line x1="48.85" y1="437.70" x2="52.45" y2="437.70" stroke="#111" stroke-width="0.8" />
<rect x="47.30" y="440.20" width="6.70" height="8.10" fill="#000" stroke="#111" stroke-width="0.9"/>
<line x1="59.65" y1="430.20" x2="59.65" y2="433.00" stroke="#111" stroke-width="0.8" />
<line x1="57.85" y1="430.20" x2="61.45" y2="430.20" stroke="#111" stroke-width="0.8" />
<rect x="56.30" y="433.00" width="6.70" height="15.30" fill="#b6b6b6" stroke="#111" stroke-width="0.9"/>
<line x1="68.75" y1="431.40" x2="68.75" y2="433.30" stroke="#111" stroke-width="0.8" />
<line x1="66.95" y1="431.40" x2="70.55" y2="431.40" stroke="#111" stroke-width="0.8" />
<rect x="65.40" y="433.30" width="6.70" height="15.00" fill="url(#peh)" stroke="#111" stroke-width="0.9"/>
<line x1="87.45" y1="435.20" x2="87.45" y2="436.50" stroke="#111" stroke-width="0.8" />
<line x1="85.65" y1="435.20" x2="89.25" y2="435.20" stroke="#111" stroke-width="0.8" />
<rect x="84.10" y="436.50" width="6.70" height="11.80" fill="#fff" stroke="#111" stroke-width="0.9"/>
<line x1="96.75" y1="445.80" x2="96.75" y2="446.40" stroke="#111" stroke-width="0.8" />
<line x1="94.95" y1="445.80" x2="98.55" y2="445.80" stroke="#111" stroke-width="0.8" />
<rect x="93.40" y="446.40" width="6.70" height="1.90" fill="#000" stroke="#111" stroke-width="0.9"/>
<line x1="105.85" y1="436.70" x2="105.85" y2="439.60" stroke="#111" stroke-width="0.8" />
<line x1="104.05" y1="436.70" x2="107.65" y2="436.70" stroke="#111" stroke-width="0.8" />
<rect x="102.50" y="439.60" width="6.70" height="8.70" fill="#b6b6b6" stroke="#111" stroke-width="0.9"/>
<line x1="114.85" y1="434.40" x2="114.85" y2="437.00" stroke="#111" stroke-width="0.8" />
<line x1="113.05" y1="434.40" x2="116.65" y2="434.40" stroke="#111" stroke-width="0.8" />
<rect x="111.50" y="437.00" width="6.70" height="11.30" fill="url(#peh)" stroke="#111" stroke-width="0.9"/>
<line x1="133.45" y1="430.60" x2="133.45" y2="433.30" stroke="#111" stroke-width="0.8" />
<line x1="131.65" y1="430.60" x2="135.25" y2="430.60" stroke="#111" stroke-width="0.8" />
<rect x="130.10" y="433.30" width="6.70" height="15.00" fill="#fff" stroke="#111" stroke-width="0.9"/>
<line x1="142.65" y1="443.20" x2="142.65" y2="445.20" stroke="#111" stroke-width="0.8" />
<line x1="140.85" y1="443.20" x2="144.45" y2="443.20" stroke="#111" stroke-width="0.8" />
<rect x="139.30" y="445.20" width="6.70" height="3.10" fill="#000" stroke="#111" stroke-width="0.9"/>
<line x1="151.65" y1="432.40" x2="151.65" y2="435.50" stroke="#111" stroke-width="0.8" />
<line x1="149.85" y1="432.40" x2="153.45" y2="432.40" stroke="#111" stroke-width="0.8" />
<rect x="148.30" y="435.50" width="6.70" height="12.80" fill="#b6b6b6" stroke="#111" stroke-width="0.9"/>
<line x1="160.85" y1="435.80" x2="160.85" y2="436.70" stroke="#111" stroke-width="0.8" />
<line x1="159.05" y1="435.80" x2="162.65" y2="435.80" stroke="#111" stroke-width="0.8" />
<rect x="157.50" y="436.70" width="6.70" height="11.60" fill="url(#peh)" stroke="#111" stroke-width="0.9"/>
<line x1="179.55" y1="333.00" x2="179.55" y2="338.60" stroke="#111" stroke-width="0.8" />
<line x1="177.75" y1="333.00" x2="181.35" y2="333.00" stroke="#111" stroke-width="0.8" />
<rect x="176.20" y="338.60" width="6.70" height="109.70" fill="#fff" stroke="#111" stroke-width="0.9"/>
<line x1="188.75" y1="375.20" x2="188.75" y2="385.50" stroke="#111" stroke-width="0.8" />
<line x1="186.95" y1="375.20" x2="190.55" y2="375.20" stroke="#111" stroke-width="0.8" />
<rect x="185.40" y="385.50" width="6.70" height="62.80" fill="#000" stroke="#111" stroke-width="0.9"/>
<line x1="197.75" y1="333.00" x2="197.75" y2="339.00" stroke="#111" stroke-width="0.8" />
<line x1="195.95" y1="333.00" x2="199.55" y2="333.00" stroke="#111" stroke-width="0.8" />
<rect x="194.40" y="339.00" width="6.70" height="109.30" fill="#b6b6b6" stroke="#111" stroke-width="0.9"/>
<line x1="206.95" y1="333.00" x2="206.95" y2="339.00" stroke="#111" stroke-width="0.8" />
<line x1="205.15" y1="333.00" x2="208.75" y2="333.00" stroke="#111" stroke-width="0.8" />
<rect x="203.60" y="339.00" width="6.70" height="109.30" fill="url(#peh)" stroke="#111" stroke-width="0.9"/>
<text x="50.40" y="438.00" font-size="5.2" text-anchor="middle" style="stroke-width:0.12px">*</text>
<text x="96.60" y="446.80" font-size="5.2" text-anchor="middle" style="stroke-width:0.12px">**</text>
<text x="142.50" y="443.70" font-size="5.2" text-anchor="middle" style="stroke-width:0.12px">***</text>
<text x="188.80" y="376.00" font-size="5.2" text-anchor="middle" style="stroke-width:0.12px">***</text>
<text x="54.40" y="459.90" font-size="7.9" text-anchor="middle" font-weight="normal" >0-2</text>
<text x="99.80" y="459.90" font-size="7.9" text-anchor="middle" font-weight="normal" >2-4</text>
<text x="147.80" y="459.90" font-size="7.9" text-anchor="middle" font-weight="normal" >4-7</text>
<text x="193.30" y="459.90" font-size="7.9" text-anchor="middle" font-weight="normal" >7-24</text>
<text x="205.10" y="460.10" font-size="7.4" text-anchor="start" font-weight="normal" >hrs</text>
<rect x="225.4" y="364.10" width="16.8" height="5.2" fill="#fff" stroke="#111" stroke-width="0.9"/>
<text x="245.80" y="369.70" font-size="9.72" text-anchor="start" font-weight="normal" xml:space="preserve">GLP-1R+/+  HSA</text>
<rect x="225.4" y="377.80" width="16.8" height="5.2" fill="#000" stroke="#111" stroke-width="0.9"/>
<text x="245.80" y="383.40" font-size="9.72" text-anchor="start" font-weight="normal" xml:space="preserve">GLP-1R+/+ ALB</text>
<rect x="225.4" y="400.60" width="16.8" height="5.2" fill="#b6b6b6" stroke="#111" stroke-width="0.9"/>
<text x="245.80" y="406.20" font-size="9.72" text-anchor="start" font-weight="normal" xml:space="preserve">GLP-1R-/- HSA</text>
<rect x="225.4" y="414.20" width="16.8" height="5.2" fill="url(#peh)" stroke="#111" stroke-width="0.9"/>
<text x="245.80" y="419.80" font-size="9.72" text-anchor="start" font-weight="normal" xml:space="preserve">GLP-1R-/- ALB</text>
<text transform="translate(11.9,190.6) rotate(-90)" font-size="9.3" font-weight="bold" stroke="#000" stroke-width="0.2" textLength="121" lengthAdjust="spacingAndGlyphs">Food Intake (g/g body wt)</text>
<text transform="translate(302.0,190.9) rotate(-90)" font-size="9.3" font-weight="bold" stroke="#000" stroke-width="0.2" textLength="121.4" lengthAdjust="spacingAndGlyphs">Food Intake (g/g body wt)</text>
<text transform="translate(6.1,441.5) rotate(-90)" font-size="8" font-weight="bold" stroke="#000" stroke-width="0.25" textLength="97.85" lengthAdjust="spacingAndGlyphs">Food Intake (g/g body wt)</text>
</svg>
</body></html>
